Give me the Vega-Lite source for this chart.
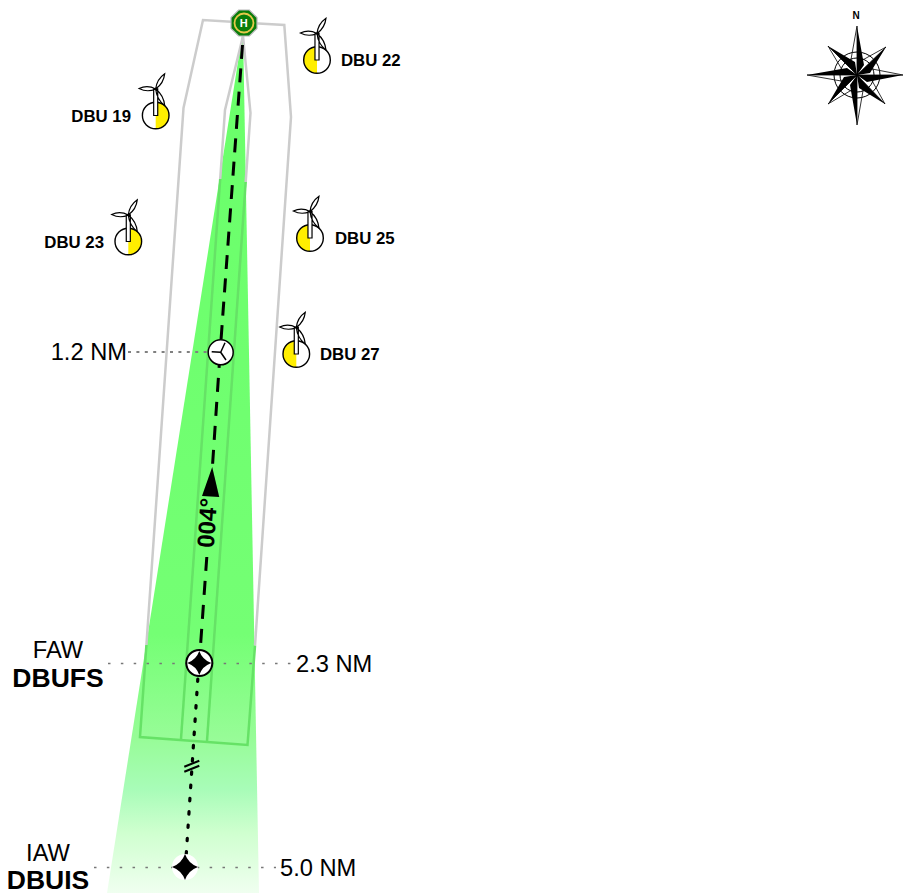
{"$schema":"https://vega.github.io/schema/vega-lite/v6.json","width":903,"height":893,"padding":0,"autosize":{"type":"none"},"background":"white","config":{"view":{"stroke":null}},
"datasets":{
"wedge":[{"y":30,"x":243,"x2":243},{"y":893,"x":107,"x2":259}],
"zonesGrey":[
{"path":"outerL","i":0,"x":146.4,"y":645},{"path":"outerL","i":1,"x":183.5,"y":108},{"path":"outerL","i":2,"x":203,"y":20},{"path":"outerL","i":3,"x":284.3,"y":25},{"path":"outerL","i":4,"x":291,"y":117},{"path":"outerL","i":5,"x":255,"y":645.6},
{"path":"innerL","i":0,"x":243,"y":36},{"path":"innerL","i":1,"x":225,"y":110},{"path":"innerL","i":2,"x":220.2,"y":179},
{"path":"innerR","i":0,"x":243,"y":36},{"path":"innerR","i":1,"x":250.5,"y":113},{"path":"innerR","i":2,"x":245.7,"y":182}],
"zonesGreen":[
{"path":"outer","i":0,"x":146.4,"y":645},{"path":"outer","i":1,"x":140,"y":737},{"path":"outer","i":2,"x":247.5,"y":745},{"path":"outer","i":3,"x":255,"y":645.6},
{"path":"innerL","i":0,"x":220.2,"y":179},{"path":"innerL","i":1,"x":181,"y":739},
{"path":"innerR","i":0,"x":245.7,"y":182},{"path":"innerR","i":1,"x":207,"y":741}],
"dashA":[{"i":0,"x":242.5,"y":45},{"i":1,"x":221,"y":340}],
"dashB":[{"path":"b","i":0,"x":220,"y":354},{"path":"b","i":1,"x":212.6,"y":464},{"path":"c","i":0,"x":206.8,"y":557},{"path":"c","i":1,"x":200.7,"y":643}],
"dots":[{"i":0,"x":197.8,"y":679},{"i":1,"x":186,"y":858}],
"breakBars":[{"path":"a","i":0,"x":184.3,"y":766.7},{"path":"a","i":1,"x":199.3,"y":760.7},{"path":"b","i":0,"x":184.3,"y":771.7},{"path":"b","i":1,"x":199.3,"y":765.7}],
"leaderShort":[{"i":0,"x":128,"y":352},{"i":1,"x":208,"y":352}],
"leaderLong":[{"path":"faw","i":0,"x":108,"y":663.5},{"path":"faw","i":1,"x":292,"y":663.5},{"path":"iaw","i":0,"x":94,"y":867.5},{"path":"iaw","i":1,"x":276,"y":867.5}],
"mdtArms":[{"path":"a","i":0,"x":225,"y":342.7},{"path":"a","i":1,"x":220.7,"y":352.3},{"path":"a","i":2,"x":226,"y":360},{"path":"b","i":0,"x":211.7,"y":351.7},{"path":"b","i":1,"x":220.7,"y":352.3}],
"turbines":[{"name":"DBU 22","x":317,"y":60,"side":"L"},{"name":"DBU 19","x":155.7,"y":115.5,"side":"R"},{"name":"DBU 23","x":128.3,"y":241.5,"side":"R"},{"name":"DBU 25","x":310,"y":238,"side":"L"},{"name":"DBU 27","x":296.3,"y":354,"side":"L"}],
"turbineLabels":[{"t":"DBU 22","x":341,"y":60.5,"a":"left"},{"t":"DBU 19","x":131,"y":116.5,"a":"right"},{"t":"DBU 23","x":104,"y":242.5,"a":"right"},{"t":"DBU 25","x":335,"y":238.5,"a":"left"},{"t":"DBU 27","x":320,"y":354.5,"a":"left"}],
"fixLabels":[{"t":"1.2 NM","x":127,"y":353,"a":"right"},{"t":"2.3 NM","x":296,"y":665,"a":"left"},{"t":"5.0 NM","x":280,"y":869,"a":"left"},{"t":"FAW","x":58,"y":651,"a":"center"},{"t":"IAW","x":48,"y":854,"a":"center"}],
"fixNames":[{"t":"DBUFS","x":58,"y":679,"a":"center"},{"t":"DBUIS","x":48,"y":880.5,"a":"center"}],
"course":[{"t":"004°","x":208.5,"y":523}],
"arrow":[{"x":211,"y":482}],
"mdt":[{"x":220.7,"y":352.3}],
"faw":[{"x":199.3,"y":663}],
"iaw":[{"x":185,"y":867}],
"heli":[{"x":244,"y":23}],
"heliText":[{"t":"H","x":243.7,"y":23.5}],
"rose":[{"x":857,"y":75}],
"roseN":[{"t":"N","x":856,"y":16}]
},
"encoding":{"x":{"field":"x","type":"quantitative","scale":{"domain":[0,903],"nice":false,"zero":false},"axis":null},"y":{"field":"y","type":"quantitative","scale":{"domain":[893,0],"nice":false,"zero":false},"axis":null}},
"layer":[
{"data":{"name":"wedge"},"mark":{"type":"area","orient":"horizontal","color":{"gradient":"linear","x1":0,"y1":0,"x2":0,"y2":1,"stops":[{"offset":0,"color":"#69ff69"},{"offset":0.7,"color":"#74ff74"},{"offset":0.82,"color":"#97fc97"},{"offset":0.88,"color":"#a8fcb8"},{"offset":0.93,"color":"#cfffcf"},{"offset":1,"color":"#f0fff0"}]}},"encoding":{"x2":{"field":"x2"}}},
{"data":{"name":"zonesGrey"},"mark":{"type":"line","stroke":"#cccccc","strokeWidth":2.5,"strokeJoin":"miter"},"encoding":{"detail":{"field":"path"},"order":{"field":"i"}}},
{"data":{"name":"zonesGreen"},"mark":{"type":"line","stroke":"#66e266","strokeWidth":2.5,"strokeJoin":"miter"},"encoding":{"detail":{"field":"path"},"order":{"field":"i"}}},
{"data":{"name":"dashA"},"mark":{"type":"line","stroke":"black","strokeWidth":3,"strokeDash":[14,9.4]},"encoding":{"order":{"field":"i"}}},
{"data":{"name":"dashB"},"mark":{"type":"line","stroke":"black","strokeWidth":3,"strokeDash":[14,10]},"encoding":{"detail":{"field":"path"},"order":{"field":"i"}}},
{"data":{"name":"dots"},"mark":{"type":"line","stroke":"black","strokeWidth":3.2,"strokeDash":[2.5,10.8],"strokeCap":"round"},"encoding":{"order":{"field":"i"}}},
{"data":{"name":"breakBars"},"mark":{"type":"line","stroke":"black","strokeWidth":2},"encoding":{"detail":{"field":"path"},"order":{"field":"i"}}},
{"data":{"name":"leaderShort"},"mark":{"type":"line","stroke":"#808080","strokeWidth":2,"strokeDash":[3,5.4]},"encoding":{"order":{"field":"i"}}},
{"data":{"name":"leaderLong"},"mark":{"type":"line","stroke":"#777777","strokeWidth":1.6,"strokeDash":[2.5,10.35]},"encoding":{"detail":{"field":"path"},"order":{"field":"i"}}},
{"data":{"name":"mdt"},"mark":{"type":"point","shape":"circle","filled":true,"fill":"white","stroke":"black","strokeWidth":1.5,"size":625,"opacity":1}},
{"data":{"name":"mdtArms"},"mark":{"type":"line","stroke":"black","strokeWidth":1.5},"encoding":{"detail":{"field":"path"},"order":{"field":"i"}}},
{"data":{"name":"faw"},"mark":{"type":"point","shape":"circle","filled":true,"fill":"white","stroke":"black","strokeWidth":2,"size":676,"opacity":1}},
{"data":{"name":"faw"},"mark":{"type":"point","shape":"M0,-1Q0.26,-0.26 1,0Q0.26,0.26 0,1Q-0.26,0.26 -1,0Q-0.26,-0.26 0,-1Z","filled":true,"fill":"black","strokeWidth":0,"size":576,"opacity":1}},
{"data":{"name":"iaw"},"mark":{"type":"point","shape":"circle","filled":true,"fill":"white","strokeWidth":0,"size":676,"opacity":1}},
{"data":{"name":"iaw"},"mark":{"type":"point","shape":"M0,-1Q0.26,-0.26 1,0Q0.26,0.26 0,1Q-0.26,0.26 -1,0Q-0.26,-0.26 0,-1Z","filled":true,"fill":"black","strokeWidth":0,"size":676,"opacity":1}},
{"data":{"name":"arrow"},"mark":{"type":"point","shape":"M0.08,-1L0.55,1L-0.6,0.93Z","filled":true,"fill":"black","strokeWidth":0,"size":900,"opacity":1}},
{"data":{"name":"course"},"mark":{"type":"text","font":"Liberation Sans","fontWeight":"bold","fontSize":24,"angle":274,"align":"center","baseline":"middle","fill":"black"},"encoding":{"text":{"field":"t"}}},
{"data":{"name":"heli"},"mark":{"type":"point","shape":"M-0.383,-0.924L0.383,-0.924L0.924,-0.383L0.924,0.383L0.383,0.924L-0.383,0.924L-0.924,0.383L-0.924,-0.383Z","filled":true,"fill":"#0a7d0a","stroke":"#b8b8b8","strokeWidth":1.2,"size":790,"opacity":1}},
{"data":{"name":"heli"},"mark":{"type":"point","shape":"circle","filled":false,"stroke":"#e6c84a","strokeWidth":1.8,"size":361,"opacity":1}},
{"data":{"name":"heliText"},"mark":{"type":"text","font":"Liberation Sans","fontWeight":"bold","fontSize":11,"align":"center","baseline":"middle","fill":"white"},"encoding":{"text":{"field":"t"}}},
{"data":{"name":"turbines"},"mark":{"type":"point","shape":"circle","filled":true,"fill":"white","strokeWidth":0,"size":708,"opacity":1}},
{"data":{"name":"turbines"},"mark":{"type":"point","filled":true,"fill":"#ffee00","strokeWidth":0,"size":708,"opacity":1},"encoding":{"shape":{"field":"side","type":"nominal","legend":null,"scale":{"domain":["L","R"],"range":["M0,-1A1,1 0 0,0 0,1Z","M0,-1A1,1 0 0,1 0,1Z"]}}}},
{"data":{"name":"turbines"},"mark":{"type":"point","shape":"circle","filled":false,"stroke":"black","strokeWidth":1.4,"size":708,"opacity":1}},
{"data":{"name":"turbines"},"mark":{"type":"point","shape":"M-0.045,-0.59L0.045,-0.59L0.045,0L-0.045,0ZM0,-0.59Q-0.185,-0.685 -0.37,-0.6Q-0.185,-0.505 0,-0.59ZM0,-0.59Q0.022,-0.806 0.2,-0.93Q0.178,-0.714 0,-0.59ZM0,-0.59Q0.179,-0.448 0.2,-0.22Q0.021,-0.362 0,-0.59Z","filled":true,"fill":"white","stroke":"black","strokeWidth":1.2,"size":8100,"opacity":1}},
{"data":{"name":"turbineLabels"},"transform":[{"filter":"datum.a=='left'"}],"mark":{"type":"text","align":"left","font":"Liberation Sans","fontWeight":"bold","fontSize":16.8,"baseline":"middle","fill":"black"},"encoding":{"text":{"field":"t"}}},
{"data":{"name":"turbineLabels"},"transform":[{"filter":"datum.a=='right'"}],"mark":{"type":"text","align":"right","font":"Liberation Sans","fontWeight":"bold","fontSize":16.8,"baseline":"middle","fill":"black"},"encoding":{"text":{"field":"t"}}},
{"data":{"name":"fixLabels"},"transform":[{"filter":"datum.a=='left'"}],"mark":{"type":"text","align":"left","font":"Liberation Sans","fontSize":23.7,"baseline":"middle","fill":"black"},"encoding":{"text":{"field":"t"}}},
{"data":{"name":"fixLabels"},"transform":[{"filter":"datum.a=='right'"}],"mark":{"type":"text","align":"right","font":"Liberation Sans","fontSize":23.7,"baseline":"middle","fill":"black"},"encoding":{"text":{"field":"t"}}},
{"data":{"name":"fixLabels"},"transform":[{"filter":"datum.a=='center'"}],"mark":{"type":"text","align":"center","font":"Liberation Sans","fontSize":23.7,"baseline":"middle","fill":"black"},"encoding":{"text":{"field":"t"}}},
{"data":{"name":"fixNames"},"mark":{"type":"text","align":"center","font":"Liberation Sans","fontWeight":"bold","fontSize":26.5,"baseline":"middle","fill":"black"},"encoding":{"text":{"field":"t"}}},
{"data":{"name":"rose"},"mark":{"type":"point","shape":"circle","filled":false,"stroke":"black","strokeWidth":1,"size":2116,"opacity":1}},
{"data":{"name":"rose"},"mark":{"type":"point","shape":"circle","filled":false,"stroke":"black","strokeWidth":1,"size":1156,"opacity":1}},
{"data":{"name":"rose"},"mark":{"type":"point","shape":"M0,0L0,-0.98L-0.14,-0.2ZM0,0L0.92,0L0.2,-0.14ZM0,0L0,1L0.14,0.2ZM0,0L-1,0L-0.2,0.14ZM0,0L0.58,-0.56L0.04,-0.26ZM0,0L0.56,0.58L0.26,0.04ZM0,0L-0.58,0.58L-0.04,0.26ZM0,0L-0.58,-0.58L-0.26,-0.04Z","filled":false,"stroke":"black","strokeWidth":0.8,"size":10000,"opacity":1}},
{"data":{"name":"rose"},"mark":{"type":"point","shape":"M0,0L0,-0.98L0.14,-0.2ZM0,0L0.92,0L0.2,0.14ZM0,0L0,1L-0.14,0.2ZM0,0L-1,0L-0.2,-0.14ZM0,0L0.58,-0.56L0.26,-0.04ZM0,0L0.56,0.58L0.04,0.26ZM0,0L-0.58,0.58L-0.26,0.04ZM0,0L-0.58,-0.58L-0.04,-0.26Z","filled":true,"fill":"black","strokeWidth":0,"size":10000,"opacity":1}},
{"data":{"name":"roseN"},"mark":{"type":"text","font":"Liberation Sans","fontWeight":"bold","fontSize":10,"align":"center","baseline":"middle","fill":"black"},"encoding":{"text":{"field":"t"}}}
]}
